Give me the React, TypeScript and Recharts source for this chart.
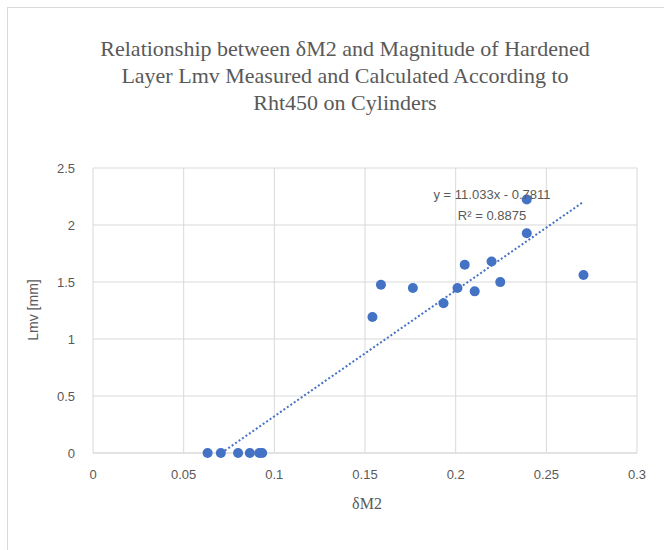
import React from 'react'
import { ScatterChart, Scatter, XAxis, YAxis, CartesianGrid, ReferenceLine } from 'recharts'

const dM2 = [
  0.0632, 0.0705, 0.08, 0.0865, 0.0917, 0.0933, 0.1541, 0.1588, 0.1764,
  0.1933, 0.201, 0.205, 0.2105, 0.2198, 0.2246, 0.2392, 0.2392, 0.2705,
]
const lmv = [
  0, 0, 0, 0, 0, 0, 1.193, 1.476, 1.447,
  1.313, 1.447, 1.651, 1.418, 1.68, 1.499, 2.223, 1.928, 1.561,
]
const xTicks = [0, 0.05, 0.1, 0.15, 0.2, 0.25, 0.3]
const yTicks = [0, 0.5, 1, 1.5, 2, 2.5]

// linear trendline as printed on the chart
const slope = 11.033
const intercept = -0.7811
const r2 = 0.8875

const points = dM2.map((x, i) => ({ x, y: lmv[i] }))
const xStart = Math.max(Math.min(...dM2), -intercept / slope)
const xEnd = Math.max(...dM2)
const trend = [
  { x: xStart, y: slope * xStart + intercept },
  { x: xEnd, y: slope * xEnd + intercept },
]

const blue = '#4472C4'
const gray = '#595959'
const tickFont = { fill: gray, fontSize: 13, fontFamily: 'Liberation Sans, Arial, sans-serif' }

export default function App() {
  return (
    <div style={{ position: 'absolute', left: 0, top: 0, width: 664, height: 550, overflow: 'hidden', background: '#fff' }}>
      <div style={{ position: 'absolute', left: 7, top: 7, width: 700, height: 600, border: '1px solid #d9d9d9' }} />
      <div
        style={{
          position: 'absolute', left: 0, top: 35, width: 690, textAlign: 'center',
          fontFamily: 'Liberation Serif, Times New Roman, serif', fontSize: 22, lineHeight: '27px', color: gray,
        }}
      >
        Relationship between δM2 and Magnitude of Hardened<br />
        Layer Lmv Measured and Calculated According to<br />
        Rht450 on Cylinders
      </div>
      <div style={{ position: 'absolute', left: 0, top: 0 }}>
        <ScatterChart width={664} height={550} margin={{ top: 168, right: 27, bottom: 67, left: 13 }}>
          <CartesianGrid stroke="#d9d9d9" strokeWidth={1} />
          <XAxis
            type="number"
            dataKey="x"
            domain={[0, 0.3]}
            ticks={xTicks}
            height={30}
            tick={tickFont}
            tickLine={false}
            tickSize={0}
            tickMargin={17}
            axisLine={{ stroke: '#d9d9d9' }}
          />
          <YAxis
            type="number"
            dataKey="y"
            domain={[0, 2.5]}
            ticks={yTicks}
            width={80}
            tick={tickFont}
            tickLine={false}
            tickSize={0}
            tickMargin={18}
            axisLine={false}
          />
          <Scatter data={points} fill={blue} isAnimationActive={false} shape={(p: any) => <circle cx={p.cx} cy={p.cy} r={5} fill={blue} />} />
          <ReferenceLine
            segment={trend}
            stroke={blue}
            strokeWidth={2}
            strokeDasharray="2 2.2"
          />
        </ScatterChart>
      </div>
      <div style={{ position: 'absolute', left: 0, top: 495, width: 734, textAlign: 'center', fontFamily: 'Liberation Serif, serif', fontSize: 16, color: gray }}>
        δM2
      </div>
      <div
        style={{
          position: 'absolute', left: 33, top: 310, transform: 'translate(-50%, -50%) rotate(-90deg)', whiteSpace: 'nowrap',
          fontFamily: 'Liberation Sans, Arial, sans-serif', fontSize: 14, color: gray,
        }}
      >
        Lmv [mm]
      </div>
      <div
        style={{
          position: 'absolute', left: 392, top: 184, width: 200, textAlign: 'center',
          fontFamily: 'Liberation Sans, Arial, sans-serif', fontSize: 13, lineHeight: '21px', color: gray,
        }}
      >
        y = {slope}x - {-intercept}<br />
        R² = {r2}
      </div>
    </div>
  )
}
